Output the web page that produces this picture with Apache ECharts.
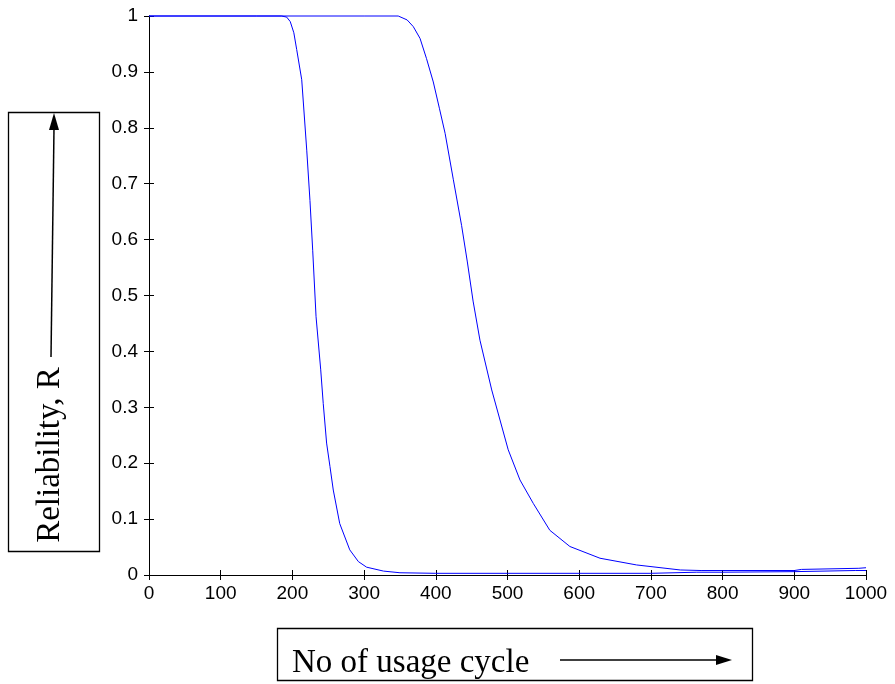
<!DOCTYPE html>
<html>
<head>
<meta charset="utf-8">
<script src="https://cdn.jsdelivr.net/npm/echarts@6/dist/echarts.min.js"></script>
<style>
html,body{margin:0;padding:0;background:#fff;}
#chart{width:895px;height:684px;}
</style>
</head>
<body>
<div id="chart"></div>
<script>
// Curve 1 (early failure)
var cycles1 = [0, 150, 185, 192, 197, 202, 206, 213, 220, 224.5, 228.3, 233, 239.5, 243, 247.7, 252.4, 257, 266, 280, 292, 303.5, 327, 350, 400, 500, 600, 700, 764, 800, 900, 985, 1000];
var rel1    = [1, 1, 1, 0.998, 0.99, 0.97, 0.94, 0.886, 0.76, 0.67, 0.581, 0.462, 0.367, 0.307, 0.236, 0.194, 0.152, 0.092, 0.045, 0.024, 0.014, 0.007, 0.004, 0.003, 0.003, 0.003, 0.003, 0.005, 0.005, 0.006, 0.008, 0.008];
// Curve 2 (later failure)
var cycles2 = [0, 300, 347.6, 360, 368.6, 378, 387, 396.5, 405, 413, 424.5, 436, 444, 452, 461.6, 478, 501, 517.4, 536, 559, 587, 629, 680, 741, 770, 800, 900, 910, 990, 1000];
var rel2    = [1, 1, 1, 0.993, 0.981, 0.96, 0.924, 0.882, 0.835, 0.79, 0.707, 0.625, 0.56, 0.49, 0.42, 0.331, 0.224, 0.17, 0.128, 0.08, 0.051, 0.03, 0.018, 0.009, 0.008, 0.008, 0.008, 0.01, 0.012, 0.013];
var xTicks = [0, 100, 200, 300, 400, 500, 600, 700, 800, 900, 1000];
var yTicks = [0, 0.1, 0.2, 0.3, 0.4, 0.5, 0.6, 0.7, 0.8, 0.9, 1];

function pairs(xs, ys){ return xs.map(function(x,i){ return [x, ys[i]]; }); }

var chart = echarts.init(document.getElementById('chart'), null, {renderer:'canvas'});
var axisLine = {show:true, lineStyle:{color:'#000', width:1}};
var labelStyle = {color:'#000', fontFamily:'Liberation Sans, Arial, sans-serif', fontSize:19,
  formatter:function(v){ return String(v); }};
chart.setOption({
  animation:false,
  backgroundColor:'#fff',
  grid:{left:149, right:29, top:16, bottom:109, containLabel:false},
  xAxis:[
    {type:'value', min:xTicks[0], max:xTicks[xTicks.length-1], interval:100, position:'bottom',
     axisLine:axisLine, axisTick:{show:true, inside:true, length:5, lineStyle:{color:'#000'}},
     axisLabel:Object.assign({margin:9}, labelStyle), splitLine:{show:false}},
    {type:'value', min:xTicks[0], max:xTicks[xTicks.length-1], interval:100, position:'top',
     axisLine:axisLine, axisTick:{show:true, inside:true, length:5, lineStyle:{color:'#000'}},
     axisLabel:{show:false}, splitLine:{show:false}}
  ],
  yAxis:[
    {type:'value', min:yTicks[0], max:yTicks[yTicks.length-1], interval:0.1, position:'left',
     axisLine:axisLine, axisTick:{show:true, inside:true, length:5, lineStyle:{color:'#000'}},
     axisLabel:Object.assign({margin:11}, labelStyle), splitLine:{show:false}},
    {type:'value', min:yTicks[0], max:yTicks[yTicks.length-1], interval:0.1, position:'right',
     axisLine:axisLine, axisTick:{show:true, inside:true, length:5, lineStyle:{color:'#000'}},
     axisLabel:{show:false}, splitLine:{show:false}}
  ],
  series:[
    {type:'line', data:pairs(cycles1, rel1), showSymbol:false, symbol:'none', clip:false,
     lineStyle:{color:'#0000ff', width:1}, itemStyle:{color:'#0000ff'}},
    {type:'line', data:pairs(cycles2, rel2), showSymbol:false, symbol:'none', clip:false,
     lineStyle:{color:'#0000ff', width:1}, itemStyle:{color:'#0000ff'}}
  ],
  graphic:[
    {type:'rect', shape:{x:8.5, y:112.5, width:91, height:439}, style:{fill:'#fff', stroke:'#000', lineWidth:1.3}},
    {type:'text', x:50, y:455, rotation:Math.PI/2,
     style:{text:'Reliability, R', fill:'#000', font:'33px "Liberation Serif", "Times New Roman", serif', align:'center', verticalAlign:'middle'}},
    {type:'line', shape:{x1:51, y1:357, x2:54, y2:128}, style:{stroke:'#000', lineWidth:1.5}},
    {type:'polygon', shape:{points:[[54,113],[49,130],[59,130]]}, style:{fill:'#000'}},
    {type:'rect', shape:{x:277.5, y:628.5, width:475, height:52}, style:{fill:'#fff', stroke:'#000', lineWidth:1.3}},
    {type:'text', x:292, y:663, style:{text:'No of usage cycle', fill:'#000', font:'33px "Liberation Serif", "Times New Roman", serif', align:'left', verticalAlign:'middle'}},
    {type:'line', shape:{x1:560, y1:660, x2:718, y2:660}, style:{stroke:'#000', lineWidth:1.5}},
    {type:'polygon', shape:{points:[[732,660],[716,655],[716,665]]}, style:{fill:'#000'}}
  ]
});
</script>
</body>
</html>
